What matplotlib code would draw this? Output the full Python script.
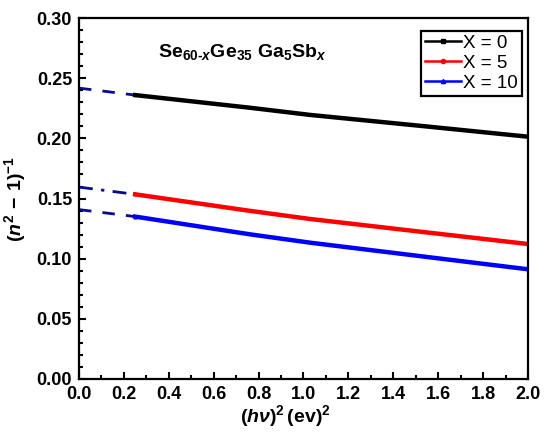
import matplotlib
matplotlib.use('Agg')
import matplotlib.pyplot as plt
from matplotlib.ticker import MultipleLocator

plt.rcParams['font.family'] = 'Liberation Sans'
plt.rcParams['font.weight'] = 'bold'
plt.rcParams['mathtext.fontset'] = 'custom'
plt.rcParams['mathtext.rm'] = 'Liberation Sans:bold'
plt.rcParams['mathtext.it'] = 'Liberation Sans:bold:italic'
plt.rcParams['mathtext.bf'] = 'Liberation Sans:bold'

# measured curves
x_data = [0.25, 0.76, 1.03, 1.56, 2.0]
y_x0 = [0.236, 0.2255, 0.2195, 0.2097, 0.2014]
y_x5 = [0.1535, 0.1398, 0.133, 0.1216, 0.1122]
y_x10 = [0.135, 0.1203, 0.1133, 0.1012, 0.0912]

# extrapolations to zero
x_ext = [0.0, 0.25]
ext_x0 = [0.2418, 0.236]
ext_x5 = [0.1595, 0.1535]
ext_x10 = [0.1408, 0.135]

labels = ['X = 0', 'X = 5', 'X = 10']

fig = plt.figure(figsize=(5.5, 4.41), dpi=100)
ax = fig.add_axes([0.1436, 0.1406, 0.8164, 0.8184])

navy = '#0a0a8c'
ax.plot(x_ext, ext_x0, color=navy, lw=2, dashes=(4.5, 4))
ax.plot(x_ext, ext_x5, color=navy, lw=2, dashes=(5, 3, 1.2, 3))
ax.plot(x_ext, ext_x10, color=navy, lw=2, dashes=(4.5, 4))

ax.plot(x_data, y_x0, color='black', lw=3.2, marker='s', markersize=2, markevery=[0], label=labels[0])
ax.plot(x_data, y_x5, color='red', lw=3.2, marker='o', markersize=2, markevery=[0], label=labels[1])
ax.plot(x_data, y_x10, color='blue', lw=3.2, marker='^', markersize=2, markevery=[0], label=labels[2])

ax.set_xlim(0, 2.0)
ax.set_ylim(0, 0.30)
ax.xaxis.set_major_locator(MultipleLocator(0.2))
ax.xaxis.set_minor_locator(MultipleLocator(0.1))
ax.yaxis.set_major_locator(MultipleLocator(0.05))
ax.yaxis.set_minor_locator(MultipleLocator(0.01))
ax.xaxis.set_major_formatter(plt.FormatStrFormatter('%.1f'))
ax.yaxis.set_major_formatter(plt.FormatStrFormatter('%.2f'))
ax.tick_params(which='both', direction='in', top=False, right=False, width=1.5, labelsize=13)
ax.tick_params(which='major', length=5, pad=5)
ax.tick_params(which='minor', length=3)
for s in ax.spines.values():
    s.set_linewidth(1.6)

ax.set_xlabel(r'$(h\nu)^2\,\mathrm{(ev)}^2$', fontsize=14)
ax.xaxis.set_label_coords(0.46, -0.068)
ax.set_ylabel(r'$(n^2\,-\,1)^{-1}$', fontsize=14, labelpad=6)

ax.text(0.35, 0.272, r'$\mathrm{Se}_{\mathrm{60\text{-}}x}\mathrm{Ge}_{\mathrm{35}}\ \mathrm{Ga}_{\mathrm{5}}\mathrm{Sb}_{x}$',
        fontsize=14, va='center', ha='left')

leg = ax.legend(loc='upper right', bbox_to_anchor=(0.9866, 0.964), borderaxespad=0,
                frameon=True, fancybox=False, framealpha=1,
                handlelength=1.9, handletextpad=0.15, borderpad=0.2, labelspacing=0.15,
                prop={'weight': 'normal', 'size': 13.5})
leg.get_frame().set_edgecolor('black')
leg.get_frame().set_linewidth(1.6)
for h in leg.get_lines():
    h.set_linewidth(1.8)
    h.set_markersize(3)

fig.savefig('out.png', dpi=100)
